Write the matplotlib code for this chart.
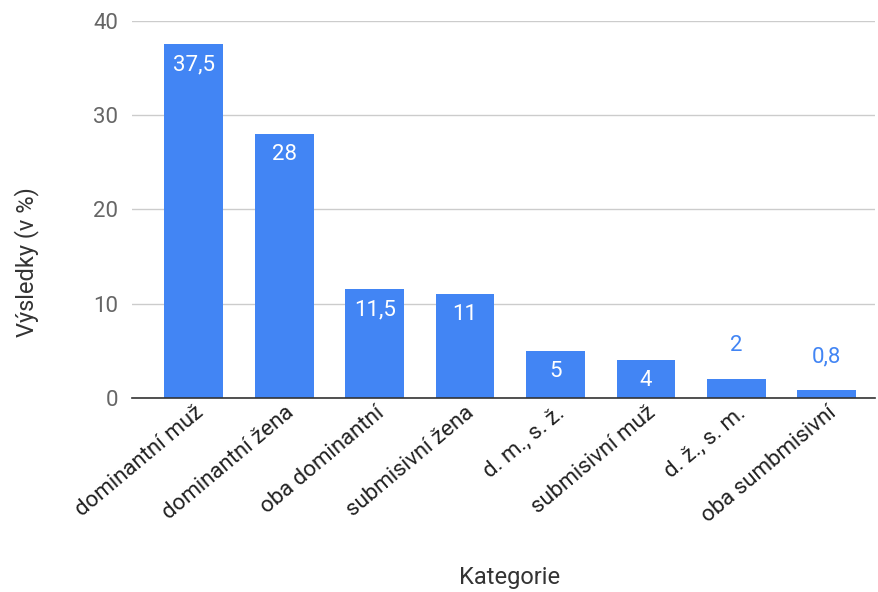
import matplotlib.pyplot as plt

plt.rcParams['font.family'] = ['Roboto', 'DejaVu Sans']

categories = ["dominantní muž", "dominantní žena", "oba dominantní",
              "submisivní žena", "d. m., s. ž.", "submisivní muž",
              "d. ž., s. m.", "oba sumbmisivní"]
values = [37.5, 28, 11.5, 11, 5, 4, 2, 0.8]
value_labels = ["37,5", "28", "11,5", "11", "5", "4", "2", "0,8"]

bar_color = '#4285F4'

fig = plt.figure(figsize=(8.79, 5.92), dpi=100)
ax = fig.add_axes([0.150, 0.328, 0.845, 0.637])

x = range(len(categories))
bars = ax.bar(x, values, width=0.65, color=bar_color, zorder=3)

# value labels: inside the bar when there is room, above it otherwise
for rect, v, lab in zip(bars, values, value_labels):
    cx = rect.get_x() + rect.get_width() / 2
    if v >= 3:
        ax.annotate(lab, (cx, v), xytext=(0, -15), textcoords='offset points',
                    ha='center', va='center', color='white', fontsize=16)
    else:
        ax.annotate(lab, (cx, v), xytext=(0, 24), textcoords='offset points',
                    ha='center', va='center', color=bar_color, fontsize=16)

ax.set_xlim(-0.686, 7.53)
ax.set_ylim(0, 40)
ax.set_yticks([0, 10, 20, 30, 40])
ax.grid(axis='y', color='#cccccc', linewidth=1, zorder=0)
ax.set_axisbelow(True)

for s in ['top', 'right', 'left']:
    ax.spines[s].set_visible(False)
ax.spines['bottom'].set_color('#333333')
ax.spines['bottom'].set_linewidth(1.2)
ax.spines['bottom'].set_zorder(4)

ax.tick_params(axis='y', length=0, labelsize=16, labelcolor='#666666', pad=10)
ax.tick_params(axis='x', length=0, labelsize=16, labelcolor='#222222', pad=3)
ax.set_xticks(list(x))
ax.set_xticklabels(categories, rotation=40, ha='right', rotation_mode='anchor')

ax.set_ylabel("Výsledky (v %)", fontsize=17, color='#333333')
ax.yaxis.set_label_coords(-0.125, 0.36)
ax.set_xlabel("Kategorie", fontsize=17, color='#333333', va='center')
ax.xaxis.set_label_coords(0.509, -0.477)

fig.savefig('out.png', dpi=100)
